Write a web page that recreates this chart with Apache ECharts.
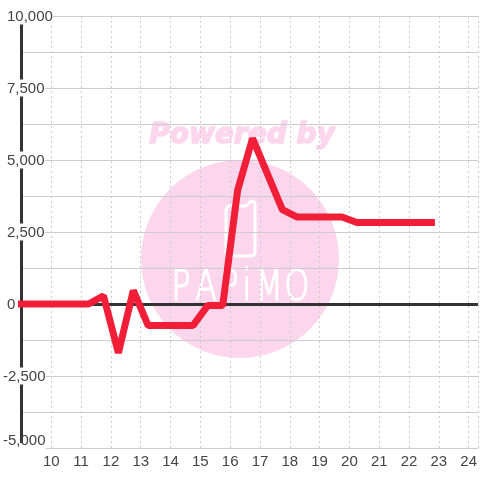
<!DOCTYPE html>
<html>
<head>
<meta charset="utf-8">
<script src="https://cdn.jsdelivr.net/npm/echarts@6/dist/echarts.min.js"></script>
<style>html,body{margin:0;padding:0;background:#fff}#main{width:480px;height:480px}</style>
</head>
<body>
<div id="main"></div>
<script>
var hours = [9, 11.25, 11.75, 12.25, 12.75, 13.25, 14.75, 15.25, 15.75, 16.25, 16.75, 17.75, 18.25, 19.75, 20.25, 22.75];
var values = [0, 0, 280, -1700, 470, -750, -750, -50, -50, 3950, 5750, 3280, 3020, 3020, 2830, 2830];
var logoLetters = ['P', 'A', 'P', 'i', 'M', 'O'];
var logoX = [181, 206, 229, 247, 269, 297];

var linePoints = [];
for (var i = 0; i < hours.length; i++) {
    linePoints.push([hours[i], values[i]]);
}

var labelFont = { fontSize: 15, fontFamily: 'Liberation Sans', color: '#444' };

var logo = [
    { type: 'circle', z: -1, shape: { cx: 240, cy: 259, r: 99 }, style: { fill: '#fcd6ec' } },
    { type: 'text', z: -1, x: 242, y: 136, style: { text: 'Powered by', fill: '#fcd6ec', stroke: '#fcd6ec', lineWidth: 1.5, font: 'italic bold 28px "DejaVu Sans"', align: 'center', verticalAlign: 'middle' } },
    { type: 'polygon', z: -1, shape: { points: [[226, 210], [227, 207], [230, 206], [246, 206], [250, 202], [253, 201], [255, 203], [255, 252], [254, 255], [251, 256], [230, 256], [227, 255], [226, 252]] }, style: { fill: 'none', stroke: '#fff', lineWidth: 3, lineJoin: 'round' } }
];
for (var j = 0; j < logoLetters.length; j++) {
    logo.push({ type: 'text', z: -1, x: logoX[j], y: 289, scaleX: 0.75, style: { text: logoLetters[j], fill: '#fff', stroke: '#fff', lineWidth: 1.5, font: '200 42px "DejaVu Sans"', align: 'center', verticalAlign: 'middle' } });
}

var myChart = echarts.init(document.getElementById('main'));
var option = {
    animation: false,
    backgroundColor: '#fff',
    graphic: logo,
    grid: { left: 20.5, right: 0, top: 16, bottom: 32 },
    xAxis: {
        type: 'value',
        min: 9,
        max: 24.317,
        interval: 1,
        axisLine: { show: false },
        axisTick: { show: false },
        axisLabel: {
            showMinLabel: false,
            showMaxLabel: false,
            margin: 6,
            fontSize: 15,
            fontFamily: 'Liberation Sans',
            color: '#444'
        },
        splitLine: { show: true, lineStyle: { color: '#ccc', type: [2, 3], width: 1 } }
    },
    yAxis: {
        type: 'value',
        min: -5000,
        max: 10000,
        interval: 2500,
        minorTick: { show: false, splitNumber: 2 },
        minorSplitLine: { show: true, lineStyle: { color: '#ccc', width: 1 } },
        splitLine: { show: true, lineStyle: { color: '#ccc', width: 1 } },
        axisLine: { show: true, onZero: false, lineStyle: { color: '#333', width: 3 } },
        axisTick: { show: false },
        axisLabel: {
            align: 'left',
            margin: 18.5,
            fontSize: 15,
            fontFamily: 'Liberation Sans',
            color: '#444',
            backgroundColor: '#fff',
            formatter: function (v) {
                var s = echarts.format.addCommas(v);
                if (v === -5000) {
                    return '{b|' + s + '}';
                }
                return v < 0 ? '{n|' + s + '}' : '{p|' + s + '}';
            },
            rich: {
                p: Object.assign({ padding: [2, 0, 0, 4] }, labelFont),
                n: Object.assign({ padding: [2, 0, 0, 0] }, labelFont),
                b: Object.assign({ padding: [0, 0, 14, 0], lineHeight: 10 }, labelFont)
            }
        }
    },
    series: [{
        type: 'line',
        data: linePoints,
        symbol: 'none',
        clip: false,
        z: 3,
        lineStyle: { color: '#f01f37', width: 7, cap: 'square', join: 'bevel' },
        markLine: {
            silent: true,
            z: 1,
            symbol: 'none',
            label: { show: false },
            lineStyle: { color: '#333', width: 3, type: 'solid' },
            data: [{ yAxis: 0 }]
        }
    }]
};
myChart.setOption(option);
</script>
</body>
</html>
